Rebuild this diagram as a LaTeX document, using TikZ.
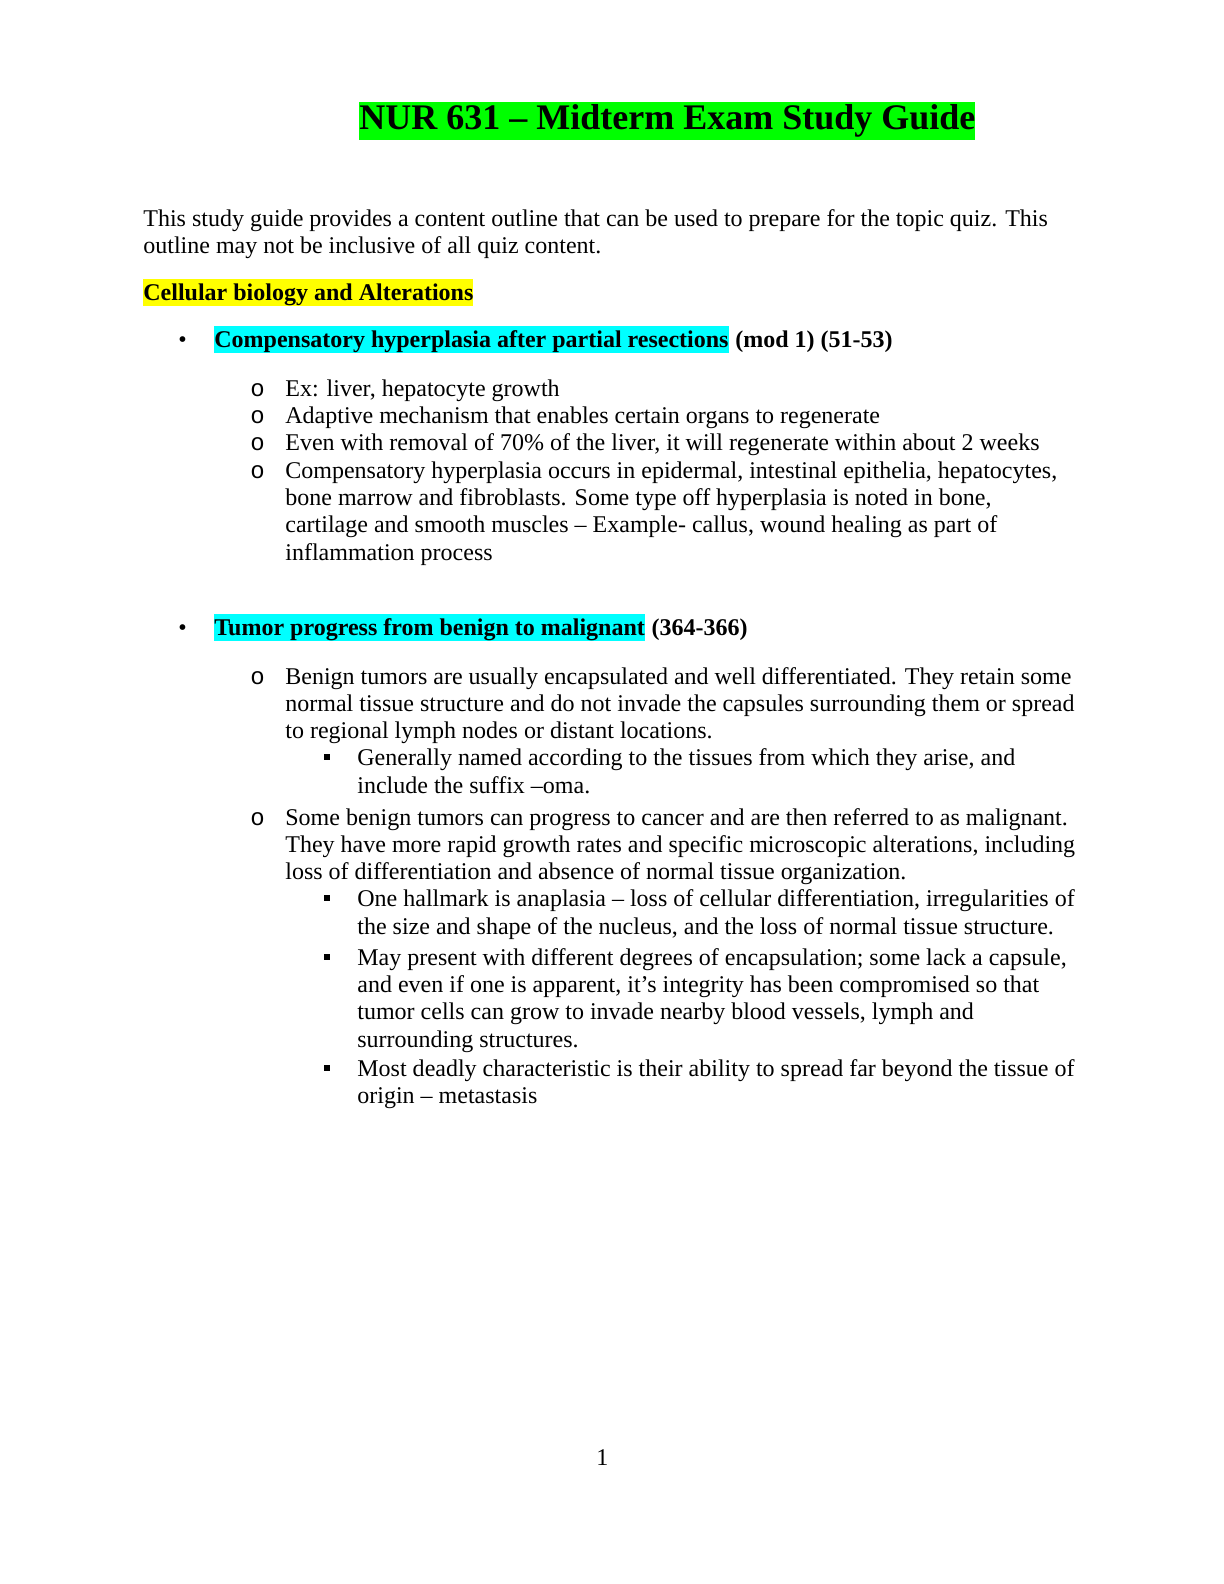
\documentclass[tikz,border=0pt]{standalone}
\usepackage{fontspec}
\setmainfont{Liberation Serif}
\setmonofont{Liberation Mono}
\tikzset{
  txt/.style={anchor=base west, inner sep=0pt, font=\fontsize{12}{13.5}\selectfont},
  bold/.style={txt, font=\fontsize{12}{13.5}\selectfont\bfseries},
  hl/.style={bold, fill=#1, text height=10.5pt, text depth=3pt},
  sqr/.style={fill=black, inner sep=0pt, minimum size=3pt},
}
\definecolor{hlgreen}{RGB}{0,255,0}
\definecolor{hlcyan}{RGB}{0,255,255}
\definecolor{hlyellow}{RGB}{255,255,0}
\begin{document}
\begin{tikzpicture}[x=0.5pt, y=-0.5pt]
\useasboundingbox (0,0) rectangle (1224,1584);

% title
\node[anchor=base west, inner sep=0pt, fill=hlgreen, text height=14pt, text depth=5pt,
  font=\fontsize{18}{20}\selectfont\bfseries] (title) at (359,130) {NUR 631 – Midterm Exam Study Guide};

% intro
\node[txt] (intro1) at (143,226) {This study guide provides a content outline that can be used to prepare for the topic quiz. This};
\node[txt] (intro2) at (143,253) {outline may not be inclusive of all quiz content.};
\node[hl=hlyellow] (sect) at (143,300) {Cellular biology and Alterations};

% first topic
\node[txt] (b1) at (178,347) {•};
\node[hl=hlcyan] (t1) at (214,347) {Compensatory hyperplasia after partial resections};
\node[bold, anchor=base west] (t1r) at ([xshift=3pt]t1.base east) {(mod 1) (51-53)};
\foreach \y/\s in {396/{Ex: liver, hepatocyte growth},
                   423/{Adaptive mechanism that enables certain organs to regenerate},
                   450/{Even with removal of 70\% of the liver, it will regenerate within about 2 weeks},
                   478/{Compensatory hyperplasia occurs in epidermal, intestinal epithelia, hepatocytes,}}{
  \node[txt] (o\y) at (250,\y) {\ttfamily o};
  \node[txt] (a\y) at (285,\y) {\s};
}
\node[txt] (a505) at (285,505) {bone marrow and fibroblasts. Some type off hyperplasia is noted in bone,};
\node[txt] (a532) at (285,532) {cartilage and smooth muscles – Example- callus, wound healing as part of};
\node[txt] (a560) at (285,560) {inflammation process};

% second topic
\node[txt] (b2) at (178,635) {•};
\node[hl=hlcyan] (t2) at (214,635) {Tumor progress from benign to malignant};
\node[bold, anchor=base west] (t2r) at ([xshift=3pt]t2.base east) {(364-366)};

\foreach \y in {684,825}{ \node[txt] (o\y) at (250,\y) {\ttfamily o}; }
\node[txt] (c684) at (285,684) {Benign tumors are usually encapsulated and well differentiated. They retain some};
\node[txt] (c711) at (285,711) {normal tissue structure and do not invade the capsules surrounding them or spread};
\node[txt] (c738) at (285,738) {to regional lymph nodes or distant locations.};
\node[txt] (c825) at (285,825) {Some benign tumors can progress to cancer and are then referred to as malignant.};
\node[txt] (c852) at (285,852) {They have more rapid growth rates and specific microscopic alterations, including};
\node[txt] (c879) at (285,879) {loss of differentiation and absence of normal tissue organization.};

\foreach \y in {765,906,965,1076}{ \node[sqr] (s\y) at (327,\y-8) {}; }
\node[txt] (d765) at (357,765) {Generally named according to the tissues from which they arise, and};
\node[txt] (d793) at (357,793) {include the suffix –oma.};
\node[txt] (d906) at (357,906) {One hallmark is anaplasia – loss of cellular differentiation, irregularities of};
\node[txt] (d934) at (357,934) {the size and shape of the nucleus, and the loss of normal tissue structure.};
\node[txt] (d965) at (357,965) {May present with different degrees of encapsulation; some lack a capsule,};
\node[txt] (d992) at (357,992) {and even if one is apparent, it’s integrity has been compromised so that};
\node[txt] (d1019) at (357,1019) {tumor cells can grow to invade nearby blood vessels, lymph and};
\node[txt] (d1047) at (357,1047) {surrounding structures.};
\node[txt] (d1076) at (357,1076) {Most deadly characteristic is their ability to spread far beyond the tissue of};
\node[txt] (d1103) at (357,1103) {origin – metastasis};

% page number
\node[txt] (page) at (596,1465) {1};
\end{tikzpicture}
\end{document}
